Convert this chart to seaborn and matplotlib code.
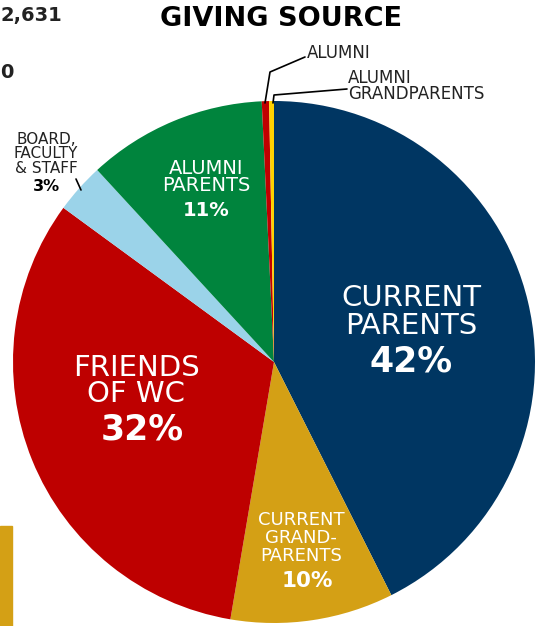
import matplotlib
matplotlib.use("Agg")
import matplotlib.pyplot as plt
import seaborn as sns
from matplotlib.lines import Line2D

sns.set_theme(style="white")
plt.rcParams['font.family'] = ['DejaVu Sans']

# ---- data ----
categories = ["CURRENT PARENTS", "CURRENT GRANDPARENTS", "FRIENDS OF WC",
              "BOARD, FACULTY & STAFF", "ALUMNI PARENTS", "ALUMNI",
              "ALUMNI GRANDPARENTS"]
values = [42.6, 10.1, 32.4, 3.1, 11.1, 0.45, 0.3]
pct_labels = ["42%", "10%", "32%", "3%", "11%", "", ""]
colors = ["#003662", "#D4A015", "#BE0000", "#9BD3E9", "#00843D", "#C00000", "#FFD200"]
title = "GIVING SOURCE"
side_texts = ["2,631", "0"]

W, H = 540, 626
fig = plt.figure(figsize=(W / 100, H / 100), dpi=100)

def fx(x):
    return x / W

def fy(y):
    return 1 - y / H

cx, cy, r = 274, 362, 261
ax = fig.add_axes([fx(cx - r), fy(cy + r), 2 * r / W, 2 * r / H])
ax.pie(values, colors=colors, startangle=90, counterclock=False,
       wedgeprops=dict(linewidth=0))
ax.set_xlim(-1, 1)
ax.set_ylim(-1, 1)
ax.set_aspect("equal")
ax.axis("off")

def t(x, y, s, size, color="white", bold=False, ha="center", ls=1.0):
    fig.text(fx(x), fy(y), s, fontsize=size, color=color, ha=ha, va="center",
             fontweight="bold" if bold else "normal", linespacing=ls)

# title
t(281, 19, title, 19.5, color="black", bold=True)

# side texts (partial panels on the left)
t(0, 15, side_texts[0], 14, color="#222222", bold=True, ha="left")
t(0, 72, side_texts[1], 14, color="#222222", bold=True, ha="left")
fig.patches.append(plt.Rectangle((0, fy(626)), fx(12), fy(526) - fy(626),
                                 transform=fig.transFigure, color="#D4A015"))

# wedge labels
t(411, 312, "CURRENT\nPARENTS", 21, ls=0.96)
t(411, 362, pct_labels[0], 25, bold=True)

t(136, 381, "FRIENDS\nOF WC", 21, ls=0.9)
t(142, 430, pct_labels[2], 25, bold=True)

t(301, 538, "CURRENT\nGRAND-\nPARENTS", 13, ls=0.97)
t(307, 581, pct_labels[1], 15.5, bold=True)

t(206, 177, "ALUMNI\nPARENTS", 14, ls=0.93)
t(206, 211, pct_labels[4], 14, bold=True)

t(46, 154, "BOARD,\nFACULTY\n& STAFF", 11, color="#222222", ls=0.98)
t(46, 187, pct_labels[3], 11.5, color="black", bold=True)

t(307, 53, "ALUMNI", 12, color="#222222", ha="left")
t(348, 86, "ALUMNI\nGRANDPARENTS", 12, color="#222222", ha="left", ls=0.9)

# leader lines
def line(pts):
    xs = [fx(p[0]) for p in pts]
    ys = [fy(p[1]) for p in pts]
    fig.add_artist(Line2D(xs, ys, transform=fig.transFigure, color="black", lw=1.2))

line([(265, 103), (270, 72), (305, 57)])
line([(273, 103), (274, 95), (347, 89)])
line([(76, 179), (81, 190)])

fig.savefig("out.png", dpi=100)
